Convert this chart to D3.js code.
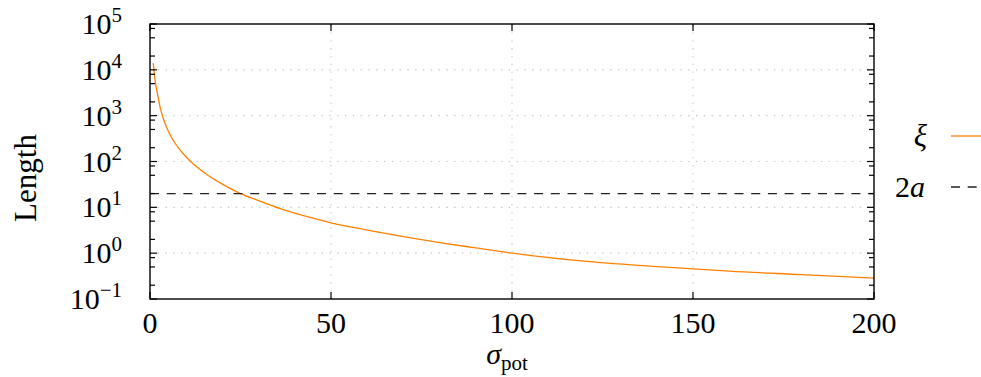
<!DOCTYPE html>
<html>
<head>
<meta charset="utf-8">
<script src="https://cdn.jsdelivr.net/npm/d3@7"></script>
<style>
  html, body { margin: 0; padding: 0; background: #fff; }
  svg { display: block; }
  text { font-family: "Liberation Serif", "DejaVu Serif", serif; fill: #000; }
</style>
</head>
<body>
<svg id="chart" width="981" height="377"></svg>
<script>
// Correlation length ξ versus σ_pot, with the constant 2a for reference
const sigma = [0.9, 1.5, 2, 3, 4, 5, 6, 8, 10, 12, 15, 20, 25, 30, 36, 40, 45, 50, 60, 70, 80, 90, 100, 120, 140, 150, 160, 180, 200];
const xi    = [14000, 5200, 3200, 1300, 730, 470, 330, 190, 125, 88, 57, 32, 20, 14, 9.4, 7.5, 5.8, 4.6, 3.2, 2.3, 1.7, 1.3, 1.0, 0.67, 0.51, 0.455, 0.405, 0.34, 0.285];
const twoA = 20;

const xTicks = [0, 50, 100, 150, 200];
const yExponents = [-1, 0, 1, 2, 3, 4, 5];
const yMinorFactors = [2, 5, 8];

const svg = d3.select("#chart");
const L = 150, R = 874, T = 24, B = 299;

const x = d3.scaleLinear().domain([0, 200]).range([L, R]);
const y = d3.scaleLog().domain([0.1, 1e5]).range([B, T]);

// grid
const grid = svg.append("g").attr("stroke", "#c4c4c4").attr("stroke-width", 1.1)
  .attr("stroke-dasharray", "1.3,6.5");
yExponents.slice(1, -1).forEach(e => {
  grid.append("line").attr("x1", L).attr("x2", R).attr("y1", y(10 ** e)).attr("y2", y(10 ** e));
});
xTicks.slice(1, -1).forEach(v => {
  grid.append("line").attr("x1", x(v)).attr("x2", x(v)).attr("y1", B).attr("y2", T);
});

// data
const line = d3.line().x((d, i) => x(sigma[i])).y(d => y(d)).curve(d3.curveMonotoneX);
svg.append("path").datum(xi).attr("d", line)
  .attr("fill", "none").attr("stroke", "#ff8000").attr("stroke-width", 1.3);

svg.append("line").attr("x1", x(0)).attr("x2", x(200)).attr("y1", y(twoA)).attr("y2", y(twoA))
  .attr("stroke", "#222").attr("stroke-width", 1.3).attr("stroke-dasharray", "9,7.7");

// axes (ticks drawn inward on all four sides)
const ax = svg.append("g").attr("stroke", "#000").attr("stroke-width", 1.2);
const majorLen = 7, minorLen = 5;
yExponents.forEach(e => {
  const yy = y(10 ** e);
  ax.append("line").attr("x1", L).attr("x2", L + majorLen).attr("y1", yy).attr("y2", yy);
  ax.append("line").attr("x1", R).attr("x2", R - majorLen).attr("y1", yy).attr("y2", yy);
  if (e < 5) yMinorFactors.forEach(f => {
    const ym = y(f * 10 ** e);
    ax.append("line").attr("x1", L).attr("x2", L + minorLen).attr("y1", ym).attr("y2", ym);
    ax.append("line").attr("x1", R).attr("x2", R - minorLen).attr("y1", ym).attr("y2", ym);
  });
});
xTicks.forEach(v => {
  ax.append("line").attr("x1", x(v)).attr("x2", x(v)).attr("y1", B).attr("y2", B - majorLen);
  ax.append("line").attr("x1", x(v)).attr("x2", x(v)).attr("y1", T).attr("y2", T + majorLen);
});
svg.append("rect").attr("x", L).attr("y", T).attr("width", R - L).attr("height", B - T)
  .attr("fill", "none").attr("stroke", "#000").attr("stroke-width", 1.4);

// tick labels
yExponents.forEach(e => {
  const t = svg.append("text").attr("x", 122).attr("y", y(10 ** e) + 10)
    .attr("text-anchor", "end").attr("font-size", 30);
  t.append("tspan").text("10");
  t.append("tspan").attr("dy", -12).attr("font-size", 21).text(e < 0 ? "\u2212" + (-e) : String(e));
});
xTicks.forEach(v => {
  svg.append("text").attr("x", x(v)).attr("y", 333).attr("text-anchor", "middle")
    .attr("font-size", 30).text(v);
});

// axis labels
const xl = svg.append("text").attr("x", 507).attr("y", 364).attr("text-anchor", "middle").attr("font-size", 30);
xl.append("tspan").attr("font-style", "italic").text("σ");
xl.append("tspan").attr("dy", 6).attr("font-size", 21).text("pot");

svg.append("text").attr("transform", "translate(36,178) rotate(-90)")
  .attr("text-anchor", "middle").attr("font-size", 31).text("Length");

// legend
svg.append("text").attr("x", 927).attr("y", 146).attr("text-anchor", "end")
  .attr("font-size", 31).attr("font-style", "italic").text("ξ");
svg.append("line").attr("x1", 951).attr("x2", 981).attr("y1", 136).attr("y2", 136)
  .attr("stroke", "#ff8000").attr("stroke-width", 1.3);
const lg = svg.append("text").attr("x", 925).attr("y", 197).attr("text-anchor", "end").attr("font-size", 30);
lg.append("tspan").text("2");
lg.append("tspan").attr("font-style", "italic").text("a");
svg.append("line").attr("x1", 951).attr("x2", 981).attr("y1", 187).attr("y2", 187)
  .attr("stroke", "#222").attr("stroke-width", 1.3).attr("stroke-dasharray", "9,7.7");
</script>
</body>
</html>
